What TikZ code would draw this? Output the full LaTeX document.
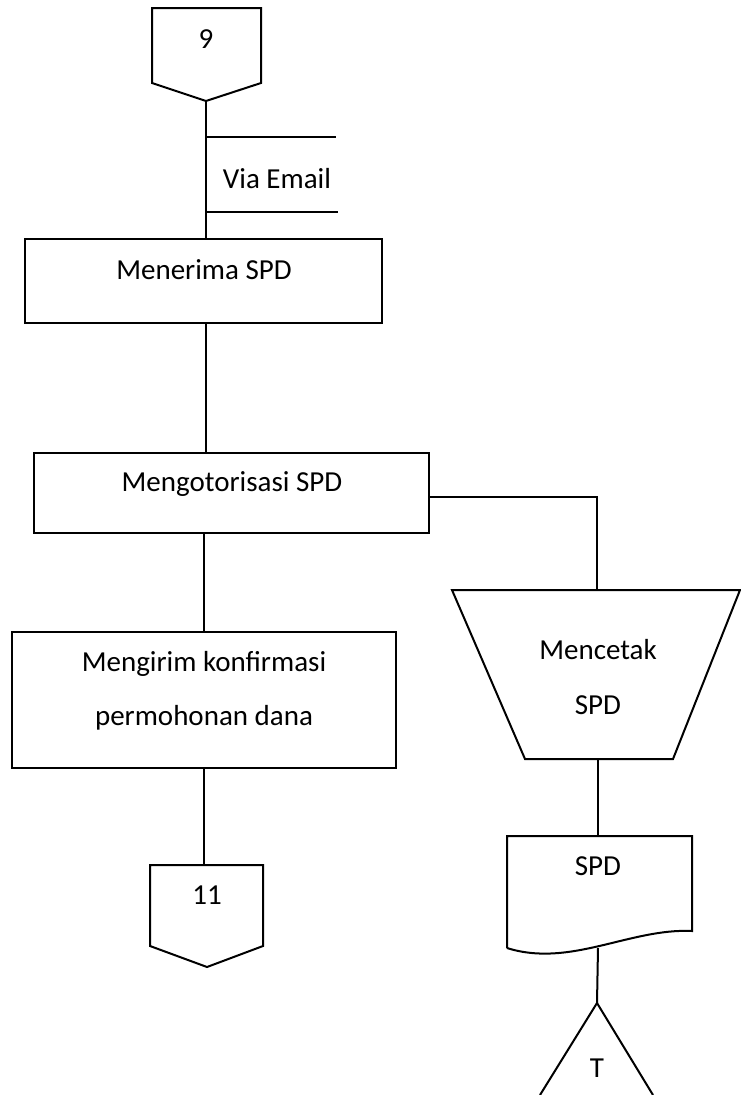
\documentclass[tikz,border=0pt]{standalone}
\usepackage{fontspec}
\setmainfont{Carlito}
\begin{document}
\begin{tikzpicture}[x=1pt,y=-1pt,
  line/.style={draw=black,line width=2pt},
  shp/.style={draw=black,line width=2pt,fill=white},
  boxnode/.style={draw=black,line width=2pt,fill=white,rectangle,inner sep=0pt},
  txt/.style={font=\fontsize{29}{36}\selectfont,inner sep=0pt,text=black}]
\useasboundingbox (0,0) rectangle (740,1095);
\fill[white] (0,0) rectangle (740,1095);

% off-page connector 9
\coordinate (c9a) at (152,8);
\coordinate (c9b) at (261,8);
\coordinate (c9c) at (261,83);
\coordinate (c9tip) at (206,101);
\coordinate (c9d) at (152,83);
\draw[shp,line join=miter] (c9a) -- (c9b) -- (c9c) -- (c9tip) -- (c9d) -- cycle;
\node[txt] (t9) at (206,39) {9};

% Menerima SPD
\node[boxnode,minimum width=357pt,minimum height=84pt] (menerima) at (203.5,281) {};
\node[txt] (tmenerima) at (204,270) {Menerima SPD};

% Via Email
\coordinate (ve1a) at (206,137);
\coordinate (ve1b) at (336,137);
\coordinate (ve2a) at (206,212);
\coordinate (ve2b) at (338,212);
\draw[line] (ve1a) -- (ve1b);
\draw[line] (ve2a) -- (ve2b);
\node[txt] (tvia) at (277,179) {Via Email};

% Mengotorisasi SPD
\node[boxnode,minimum width=395pt,minimum height=80pt] (otor) at (231.5,493) {};
\node[txt] (totor) at (232,484) {Mengotorisasi SPD};

% Mengirim konfirmasi
\node[boxnode,minimum width=384pt,minimum height=136pt] (kirim) at (204,700) {};
\node[txt] (tkirim1) at (204,664) {Mengirim konfirmasi};
\node[txt] (tkirim2) at (204,718) {permohonan dana};

% off-page connector 11
\coordinate (c11a) at (150,865);
\coordinate (c11b) at (263,865);
\coordinate (c11c) at (263,946);
\coordinate (c11tip) at (207,967);
\coordinate (c11d) at (150,946);
\coordinate (c11top) at (204,865);
\draw[shp,line join=miter] (c11a) -- (c11b) -- (c11c) -- (c11tip) -- (c11d) -- cycle;
\node[txt] (t11) at (207,895) {11};

% Manual operation trapezoid: Mencetak SPD
\coordinate (trA) at (452,590);
\coordinate (trB) at (740,590);
\coordinate (trC) at (673,759);
\coordinate (trD) at (525,759);
\coordinate (trtop) at (597,590);
\coordinate (trbot) at (598,759);
\draw[shp,line join=miter] (trA) -- (trB) -- (trC) -- (trD) -- cycle;
\node[txt] (tcetak1) at (598,650) {Mencetak};
\node[txt] (tcetak2) at (598,705) {SPD};

% Document SPD
\coordinate (docA) at (507,836);
\coordinate (docB) at (692,836);
\coordinate (docC) at (692,931);
\coordinate (docD) at (507,948);
\coordinate (doctop) at (598,836);
\coordinate (docbot) at (598,948);
\draw[shp,line join=miter] (docD) -- (docA) -- (docB) -- (docC)
  .. controls (630,928) and (570,968) .. (docD);
\node[txt] (tspd) at (598,866) {SPD};

% Terminal triangle T
\coordinate (triapex) at (597,1003);
\coordinate (triL) at (540,1095);
\coordinate (triR) at (653,1095);
\draw[shp,line join=miter] (triL) -- (triapex) -- (triR);
\node[txt] (tT) at (597,1068) {T};

% connectors
\draw[line] (c9tip) -- (c9tip |- menerima.north);
\draw[line] (menerima.south -| c9tip) -- (otor.north -| c9tip);
\coordinate (brk) at (597,497);
\draw[line] (otor.east |- brk) -- (brk) -- (trtop);
\draw[line] (otor.south -| kirim.north) -- (kirim.north);
\draw[line] (kirim.south) -- (c11top);
\draw[line] (trbot) -- (doctop);
\draw[line] (docbot) -- (triapex);
\end{tikzpicture}
\end{document}
